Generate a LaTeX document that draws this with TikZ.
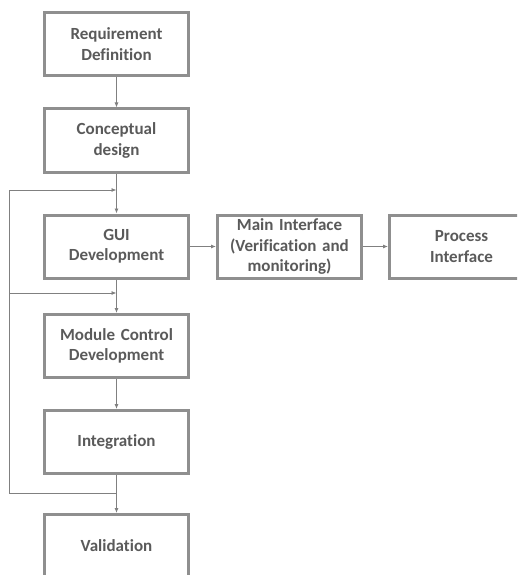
\documentclass[tikz,border=0pt]{standalone}
\usepackage{fontspec}
\setmainfont{Carlito}[Ligatures=NoCommon]
\usetikzlibrary{arrows.meta}
\definecolor{boxc}{HTML}{8F8F8F}
\definecolor{txtc}{HTML}{5A5A5A}
\definecolor{linec}{HTML}{808080}
\begin{document}
\begin{tikzpicture}[x=1pt,y=-1pt,
  stepbox/.style={draw=boxc,line width=3pt,fill=white,minimum width=144pt,minimum height=63pt,
    text width=142pt,align=center,inner sep=0pt,font=\bfseries\fontsize{17}{20.5}\selectfont,text=txtc},
  conn/.style={draw=linec,line width=0.8pt,-{Latex[length=5pt,width=4pt]}},
  plain/.style={draw=linec,line width=0.8pt}]
\useasboundingbox (0,0) rectangle (517,575);
\clip (0,0) rectangle (517,575);
\node[stepbox] (req) at (116.5,44) {Requirement\\Definition};
\node[stepbox] (con) at (116.5,140.5) {Conceptual\\design};
\node[stepbox] (gui) at (116.5,246.5) {GUI\\Development};
\node[stepbox] (mi) at (289.5,246.5) {Main Interface\\(Verification and\\monitoring)};
\node[stepbox] (pi) at (461.5,246.5) {Process\\Interface};
\node[stepbox] (mod) at (116.5,346) {Module Control\\Development};
\node[stepbox] (int) at (116.5,442) {Integration};
\node[stepbox] (val) at (116.5,546) {Validation};
\coordinate (jb) at (116.5,493);
\coordinate (lb) at (9,493);
\coordinate (lm) at (9,293);
\coordinate (lt) at (9,190);
\coordinate (tt) at (116.5,190);
\coordinate (tm) at (116.5,293);
\draw[conn] (req) -- (con);
\draw[conn] (con) -- (gui);
\draw[conn] (gui) -- (mod);
\draw[conn] (mod) -- (int);
\draw[conn] (int) -- (val);
\draw[conn] (gui) -- (mi);
\draw[conn] (mi) -- (pi);
\draw[plain] (jb) -- (lb) -- (lt);
\draw[conn] (lt) -- (tt);
\draw[conn] (lm) -- (tm);
\end{tikzpicture}
\end{document}
